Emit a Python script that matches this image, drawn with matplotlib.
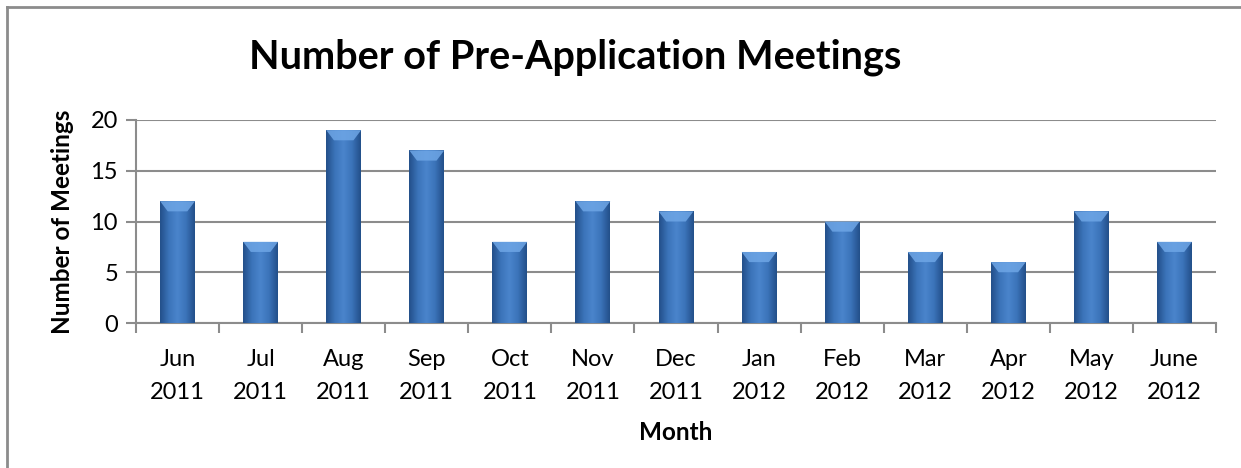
import matplotlib
matplotlib.use("Agg")
import matplotlib.pyplot as plt
import numpy as np
from matplotlib.patches import Polygon
from matplotlib.lines import Line2D
from matplotlib.colors import LinearSegmentedColormap

months = ["Jun", "Jul", "Aug", "Sep", "Oct", "Nov", "Dec", "Jan", "Feb", "Mar", "Apr", "May", "June"]
years = ["2011", "2011", "2011", "2011", "2011", "2011", "2011", "2012", "2012", "2012", "2012", "2012", "2012"]
meetings = [12, 8, 19, 17, 8, 12, 11, 7, 10, 7, 6, 11, 8]
y_ticks = [0, 5, 10, 15, 20]

plt.rcParams['font.family'] = ['Lato', 'DejaVu Sans']

W, H = 1241, 468
fig = plt.figure(figsize=(W / 100, H / 100), dpi=100)
ax = fig.add_axes([136 / W, 1 - 323 / H, (1216 - 136) / W, (323 - 120) / H])

grid_col = "#8c8c8c"
x = np.arange(len(months))
bw = 0.42
bars = ax.bar(x, meetings, width=bw, color="#3d76bd", zorder=3, linewidth=0)

cmap = LinearSegmentedColormap.from_list("barg", ["#23508a", "#3b73b9", "#4a85cc", "#3b73b9", "#23508a"])
grad = np.linspace(0, 1, 64).reshape(1, -1)
for b, v in zip(bars, meetings):
    x0 = b.get_x()
    w = b.get_width()
    im = ax.imshow(grad, extent=[x0, x0 + w, 0, v], aspect="auto", cmap=cmap, zorder=4, interpolation="bicubic")
    im.set_clip_path(b)
    bh = 1.0
    inset = w * 0.22
    bevel = Polygon([[x0, v], [x0 + w, v], [x0 + w - inset, v - bh], [x0 + inset, v - bh]],
                    closed=True, facecolor="#6ea6e6", edgecolor="none", zorder=5, alpha=0.85)
    ax.add_patch(bevel)

ax.set_xlim(-0.5, len(months) - 0.5)
ax.set_ylim(0, 20)
ax.set_yticks(y_ticks)
ax.set_yticklabels([str(t) for t in y_ticks], fontsize=17)
ax.yaxis.grid(True, color=grid_col, linewidth=1.5, zorder=0)
ax.set_axisbelow(True)

ax.set_xticks(x)
ax.set_xticklabels([f"{m}\n{yv}" for m, yv in zip(months, years)], fontsize=17, linespacing=1.7)
ax.tick_params(axis="x", length=0, pad=19)
ax.set_xticks(np.arange(-0.5, len(months), 1), minor=True)
ax.tick_params(axis="x", which="minor", length=7, width=1.5, color=grid_col, direction="out")
ax.tick_params(axis="y", length=7, width=1.5, color=grid_col, direction="out", pad=6)

for s in ["top", "right"]:
    ax.spines[s].set_visible(False)
for s in ["left", "bottom"]:
    ax.spines[s].set_color(grid_col)
    ax.spines[s].set_linewidth(1.5)

ax.set_xlabel("Month", fontsize=17.5, fontweight="bold", labelpad=13)
ax.set_ylabel("Number of Meetings", fontsize=17.5, fontweight="bold", labelpad=12)

fig.text(575 / W, 1 - 57 / H, "Number of Pre-Application Meetings", fontsize=28.5, fontweight="bold",
         ha="center", va="center")

# outer chart border (top and left visible)
fig.add_artist(Line2D([7 / W, 1.0], [1 - 7 / H, 1 - 7 / H], transform=fig.transFigure, color=grid_col, linewidth=2))
fig.add_artist(Line2D([7 / W, 7 / W], [0, 1 - 7 / H], transform=fig.transFigure, color=grid_col, linewidth=2))

fig.savefig("out.png", dpi=100, facecolor="white")
